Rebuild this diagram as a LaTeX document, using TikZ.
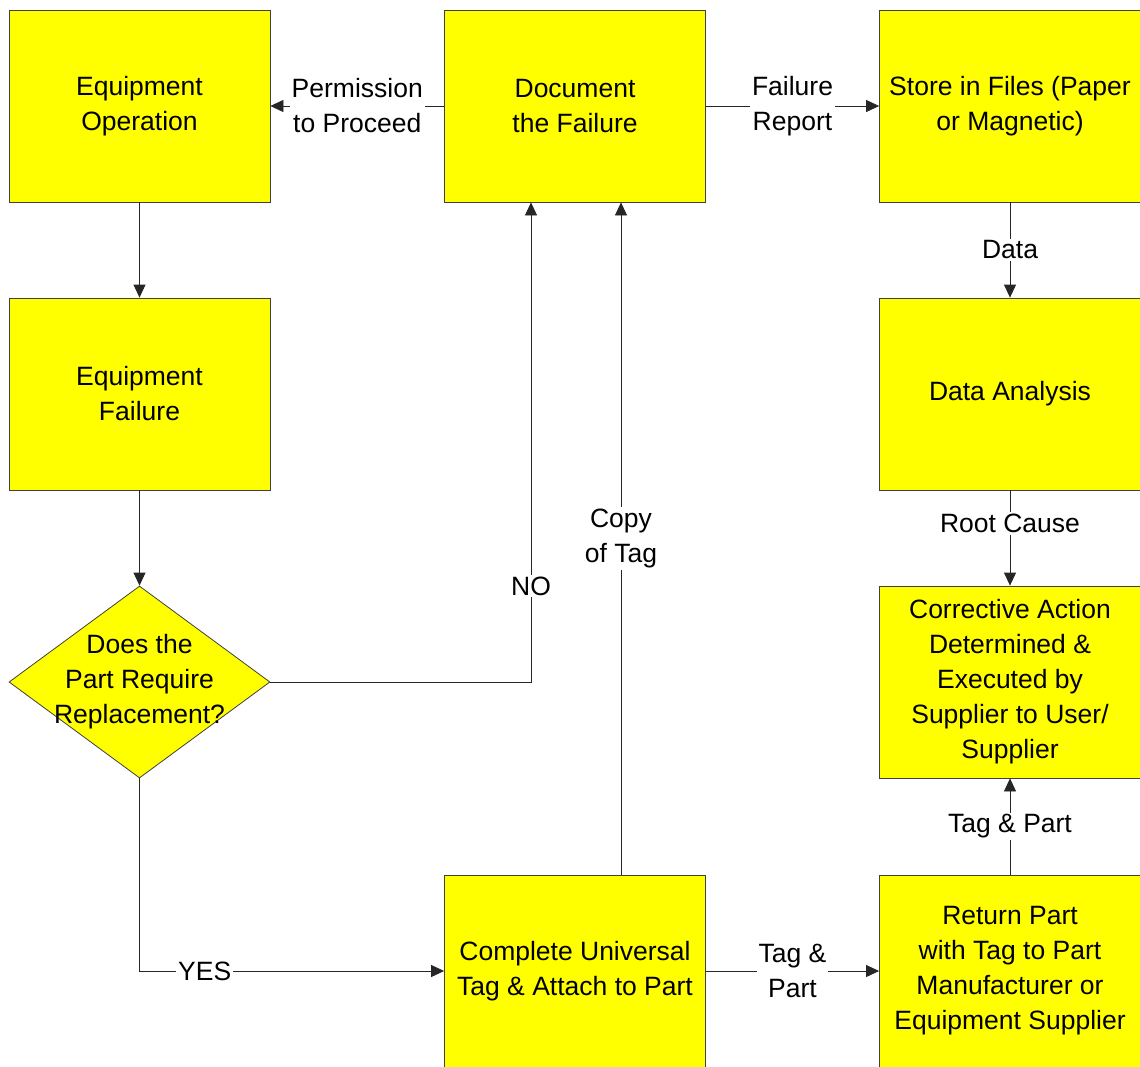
\documentclass[tikz,border=0pt]{standalone}
\usepackage{fontspec}
\setmainfont{Liberation Sans}
\usetikzlibrary{arrows.meta,shapes.geometric}
\definecolor{boxyellow}{HTML}{FFFF00}
\definecolor{edgegray}{HTML}{404040}
\newcommand{\bigfont}{\fontsize{26.5}{35}\selectfont}
\begin{document}
\begin{tikzpicture}[x=1pt,y=-1pt,
  box/.style={draw=edgegray, fill=boxyellow, minimum width=261pt, minimum height=192pt, inner sep=0pt, align=center, font=\bigfont, line width=0.8pt},
  decision/.style={diamond, draw=edgegray, fill=boxyellow, minimum width=261pt, minimum height=192pt, inner sep=0pt, line width=0.8pt},
  lbl/.style={fill=white, inner sep=2pt, align=center, font=\bigfont},
  conn/.style={draw=black!85, line width=0.8pt},
  arr/.style={conn, -{Triangle[length=13pt,width=12pt]}}]
\useasboundingbox (0,0) rectangle (1140,1066);
\clip (0,0) rectangle (1140,1066);
\fill[white] (0,0) rectangle (1140,1066);

\node[box] (eqop) at (139.5,106) {Equipment\\Operation};
\node[box] (doc) at (575,106) {Document\\the Failure};
\node[box] (store) at (1010,106) {Store in Files (Paper\\or Magnetic)};
\node[box] (fail) at (139.5,394) {Equipment\\Failure};
\node[box] (ana) at (1010,394) {Data Analysis};
\node[decision] (dec) at (139.5,682) {};
\node[font=\bigfont, align=center] (dectext) at (dec.center) {Does the\\Part Require\\Replacement?};
\node[box] (corr) at (1010,682) {Corrective Action\\Determined \&\\Executed by\\Supplier to User/\\Supplier};
\node[box] (tag) at (575,971) {Complete Universal\\Tag \& Attach to Part};
\node[box] (ret) at (1010,971) {Return Part\\with Tag to Part\\Manufacturer or\\Equipment Supplier};

\draw[arr] (doc.west) -- node[lbl] {Permission\\to Proceed} (eqop.east);
\draw[arr] (doc.east) -- node[lbl] {Failure\\Report} (store.west);
\draw[arr] (eqop.south) -- (fail.north);
\draw[arr] (fail.south) -- (dec.north);
\draw[arr] (dec.east) -| node[lbl, pos=0.6] {NO} ([xshift=-44pt]doc.south);
\draw[arr] (dec.south) |- node[lbl, pos=0.607] {YES} (tag.west);
\draw[arr] ([xshift=46pt]tag.north) -- node[lbl] {Copy\\of Tag} ([xshift=46pt]doc.south);
\draw[arr] (tag.east) -- node[lbl] {Tag \&\\Part} (ret.west);
\draw[arr] (ret.north) -- node[lbl] {Tag \& Part} (corr.south);
\draw[arr] (store.south) -- node[lbl] {Data} (ana.north);
\draw[arr] (ana.south) -- node[lbl, pos=0.35] {Root Cause} (corr.north);
\end{tikzpicture}
\end{document}
